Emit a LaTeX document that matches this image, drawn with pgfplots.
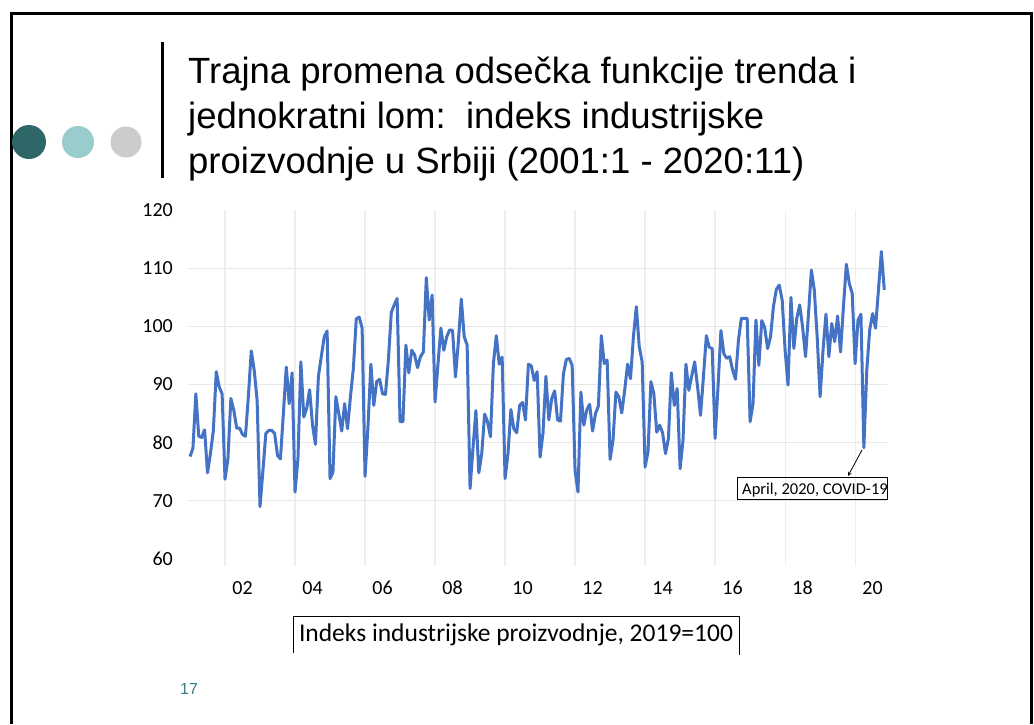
\documentclass[border=0pt]{standalone}
\usepackage{pgfplots}
\pgfplotsset{compat=1.18}
\usepackage{pgfplotstable}
\usepackage{fontspec}
\setmainfont{Carlito}
\newfontfamily\arial{Liberation Sans}
\definecolor{lineblue}{RGB}{68,114,196}
\definecolor{gridgray}{RGB}{231,231,231}
\definecolor{vgridgray}{RGB}{238,238,238}
\definecolor{darkteal}{RGB}{47,102,104}
\definecolor{lightteal}{RGB}{153,204,204}
\definecolor{lightgray}{RGB}{204,204,204}
\definecolor{numteal}{RGB}{60,125,130}

% Indeks industrijske proizvodnje, monthly 2001:1 - 2020:11
\pgfplotstableread{
v
77.6
79.0
88.4
81.1
80.9
82.2
74.8
78.1
82.1
92.2
89.6
88.4
73.7
77.2
87.6
85.6
82.5
82.5
81.4
81.1
87.9
95.8
92.5
87.3
69.0
75.2
81.6
82.1
82.1
81.6
77.8
77.2
85.0
93.0
86.7
92.0
71.5
77.2
93.9
84.4
85.9
89.1
83.0
79.7
91.3
94.8
98.2
99.2
73.8
74.9
87.9
85.0
82.0
86.7
82.4
87.9
92.8
101.3
101.6
99.7
74.2
82.7
93.5
86.4
90.5
90.9
88.4
88.3
94.2
102.4
103.7
104.8
83.6
83.6
96.8
92.0
95.9
95.1
92.9
94.8
95.6
108.4
101.1
105.4
87.0
93.5
99.7
95.9
98.2
99.4
99.3
91.3
97.4
104.7
98.2
96.8
72.1
79.0
85.5
74.8
78.1
84.9
83.6
81.0
93.6
98.4
93.5
94.7
73.8
78.1
85.7
82.4
81.7
86.4
86.9
83.9
93.5
93.2
90.7
92.2
77.5
81.6
91.4
83.9
87.6
88.9
83.9
83.7
91.8
94.3
94.5
93.3
75.2
71.5
88.7
83.0
85.6
86.6
82.0
85.0
86.3
98.4
93.6
94.2
77.1
80.4
88.7
87.9
85.1
89.0
93.5
91.0
98.2
103.4
96.5
93.9
75.8
78.4
90.5
88.4
81.8
83.0
81.7
78.1
80.7
92.0
86.4
89.3
75.5
80.4
93.5
89.0
91.5
93.9
89.6
84.7
91.3
98.4
96.4
96.2
80.7
89.6
99.3
95.3
94.5
94.8
92.5
90.9
97.6
101.4
101.4
101.4
83.6
86.7
101.1
93.3
101.0
99.8
96.2
98.2
103.4
106.4
107.1
104.5
95.9
89.9
105.0
96.2
101.4
103.7
99.9
94.8
102.0
109.7
106.3
98.2
87.9
95.9
102.1
94.8
100.5
97.4
101.8
95.6
103.4
110.7
107.4
105.7
93.6
101.1
102.1
79.1
92.5
99.4
102.2
99.7
106.3
112.9
106.3
}\ipdata

\begin{document}
\begin{tikzpicture}[x=1pt,y=1pt]
\path[use as bounding box] (0,0) rectangle (1034,-724);
\fill[white] (0,0) rectangle (1034,-724);
% slide frame
\draw[line width=3pt] (11,-724) -- (11,-13) -- (1031,-13) -- (1031,-724);
% bullets
\fill[darkteal] (29,-142) circle (17);
\fill[lightteal] (78,-142) circle (16);
\fill[lightgray] (126,-142) circle (15.5);
% vertical bar
\draw[line width=3pt] (162,-42) -- (162,-178);
% title
\begin{scope}[every node/.style={anchor=base west, inner sep=0pt, font=\arial\fontsize{36.5}{45}\selectfont}]
\node at (188,-83) {Trajna promena odsečka funkcije trenda i};
\node at (188,-128) {jednokratni lom:\ \ indeks industrijske};
\node at (188,-173) {proizvodnje u Srbiji (2001:1 - 2020:11)};
\end{scope}

\begin{axis}[
  at={(188pt,-558.8pt)}, anchor=south west,
  width=699pt, height=348.6pt, scale only axis,
  xmin=-0.69, xmax=238.93, ymin=60, ymax=120,
  axis line style={draw=none},
  xtick={12,36,...,228},
  xticklabels={02,04,06,08,10,12,14,16,18,20},
  xtick pos=bottom,
  xmajorgrids,
  major grid style={vgridgray, line width=1.2pt},
  tick align=outside,
  major tick length=7pt,
  xtick style={draw=vgridgray, line width=1.2pt},
  ytick={60,70,...,120},
  ytick style={draw=none},
  extra y ticks={70,80,90,100,110},
  extra y tick labels={},
  extra y tick style={grid=major, major tick length=0pt, major grid style={gridgray, line width=1.2pt}},
  /pgf/number format/assume math mode=true,
  tick label style={font=\fontsize{20}{24}\selectfont, text=black},
  yticklabel style={inner sep=0pt, anchor=east, xshift=-8pt},
  xticklabel style={inner sep=0pt, anchor=base, yshift=-29pt, xshift=17.5pt},
  clip=false,
]
\addplot[lineblue, line width=3pt, line join=round, mark=none] table[x expr=\coordindex, y=v] {\ipdata};
\end{axis}

% annotation
\draw[-stealth, line width=0.8pt] (862,-450) -- (848,-476);
\begin{scope}
\clip (737,-477) rectangle (887,-499);
\node[anchor=base west, inner sep=0pt, font=\fontsize{16.5}{20}\selectfont] at (742,-494) {April, 2020, COVID-19};
\end{scope}
\draw[line width=0.8pt] (737,-477) rectangle (887,-499);

% legend box
\draw[line width=1pt] (293,-653) -- (293,-616) -- (739,-616) -- (739,-655);
\node[anchor=base, inner sep=0pt, font=\fontsize{25.5}{30}\selectfont] at (516,-641) {Indeks industrijske proizvodnje, 2019=100};

% slide number
\node[anchor=base west, inner sep=0pt, font=\arial\fontsize{16}{19}\selectfont, text=numteal] at (180,-694) {17};
\end{tikzpicture}
\end{document}
